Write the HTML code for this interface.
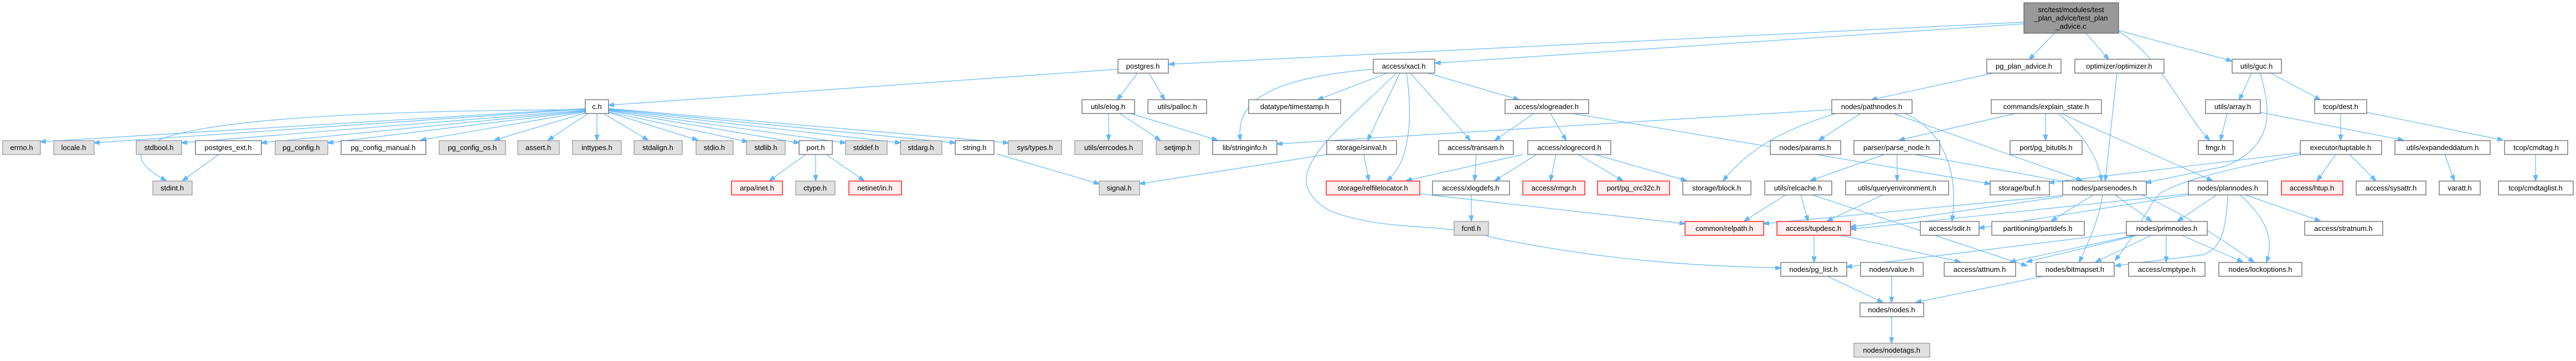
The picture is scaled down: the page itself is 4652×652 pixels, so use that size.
<!DOCTYPE html>
<html><head><meta charset="utf-8"><style>
html,body{margin:0;padding:0;background:#fff;}
svg{display:block;}
text{font-family:"Liberation Sans",sans-serif;font-size:13px;fill:#000;text-anchor:middle;}
.w{fill:#fff;stroke:#666;stroke-width:1.3}
.g{fill:#e0e0e0;stroke:#999;stroke-width:1.3}
.r{fill:#fff0f0;stroke:#f00;stroke-width:1.3}
.t{fill:#999;stroke:#666;stroke-width:1.3}
path,line{stroke:#63b8ff;stroke-width:1.2;fill:none}
</style></head><body>
<svg width="4652" height="652" viewBox="0 0 4652 652" xmlns="http://www.w3.org/2000/svg">
<defs><marker id="a" markerWidth="11" markerHeight="8" refX="10" refY="4" orient="auto" markerUnits="userSpaceOnUse"><path d="M0,0 L11,4 L0,8 z" style="fill:#63b8ff;stroke:#63b8ff"/></marker></defs>
<g marker-end="url(#a)">
<line x1="3655" y1="40" x2="2111" y2="116"/>
<line x1="3655" y1="43" x2="2592" y2="114"/>
<line x1="3710" y1="60" x2="3665" y2="107"/>
<line x1="3767" y1="60" x2="3808" y2="107"/>
<path d="M3826,57 C3900,100 3940,200 3990,253"/>
<line x1="3826" y1="55" x2="4030" y2="110"/>
<line x1="3600" y1="132" x2="3380" y2="180"/>
<line x1="2019" y1="125" x2="1099" y2="190"/>
<line x1="2054" y1="132" x2="2018" y2="180"/>
<line x1="2075" y1="132" x2="2103" y2="180"/>
<line x1="1057" y1="196" x2="73" y2="256"/>
<line x1="1057" y1="197" x2="170" y2="258"/>
<line x1="1057" y1="199" x2="328" y2="258"/>
<line x1="1057" y1="200" x2="472" y2="258"/>
<line x1="1057" y1="201" x2="592" y2="258"/>
<line x1="1057" y1="202" x2="760" y2="253"/>
<line x1="1057" y1="204" x2="893" y2="253"/>
<line x1="1062" y1="205" x2="990" y2="253"/>
<line x1="1078" y1="205" x2="1078" y2="253"/>
<line x1="1090" y1="205" x2="1170" y2="253"/>
<line x1="1099" y1="203" x2="1260" y2="253"/>
<line x1="1099" y1="202" x2="1350" y2="256"/>
<line x1="1099" y1="200" x2="1443" y2="258"/>
<line x1="1099" y1="199" x2="1527" y2="258"/>
<line x1="1099" y1="198" x2="1626" y2="258"/>
<line x1="1099" y1="197" x2="1725" y2="258"/>
<line x1="1099" y1="196" x2="1821" y2="258"/>
<path d="M1057,198 C600,200 100,220 300,326"/>
<line x1="395" y1="279" x2="330" y2="326"/>
<line x1="1455" y1="279" x2="1390" y2="326"/>
<line x1="1473" y1="279" x2="1473" y2="326"/>
<line x1="1492" y1="279" x2="1560" y2="326"/>
<line x1="1800" y1="278" x2="1985" y2="332"/>
<line x1="2396" y1="279" x2="2058" y2="332"/>
<line x1="2463" y1="279" x2="2472" y2="326"/>
<line x1="2002" y1="205" x2="2002" y2="253"/>
<line x1="2022" y1="205" x2="2095" y2="253"/>
<line x1="2042" y1="205" x2="2198" y2="253"/>
<path d="M2480,125 C2300,140 2230,180 2240,253"/>
<line x1="2505" y1="132" x2="2380" y2="180"/>
<line x1="2528" y1="132" x2="2470" y2="253"/>
<path d="M2540,132 C2550,200 2550,290 2505,326"/>
<line x1="2547" y1="132" x2="2655" y2="253"/>
<line x1="2578" y1="132" x2="2743" y2="180"/>
<path d="M2522,132 C2400,250 2300,320 2400,380 C2500,420 2600,400 2700,430 C2900,470 3050,480 3216,484"/>
<line x1="3308" y1="198" x2="2306" y2="260"/>
<path d="M3315,205 C3200,240 3150,280 3112,326"/>
<line x1="3360" y1="205" x2="3285" y2="253"/>
<path d="M3440,205 C3500,230 3540,300 3525,399"/>
<line x1="3420" y1="205" x2="3760" y2="326"/>
<line x1="2770" y1="205" x2="2700" y2="253"/>
<line x1="2800" y1="205" x2="2828" y2="253"/>
<line x1="2840" y1="205" x2="3594" y2="332"/>
<line x1="2666" y1="279" x2="2663" y2="326"/>
<line x1="2775" y1="279" x2="2700" y2="326"/>
<line x1="2810" y1="279" x2="2800" y2="326"/>
<line x1="2850" y1="279" x2="2930" y2="326"/>
<line x1="2880" y1="279" x2="3045" y2="326"/>
<line x1="2750" y1="279" x2="2540" y2="326"/>
<line x1="2564" y1="350" x2="3043" y2="404"/>
<line x1="2657" y1="352" x2="2657" y2="399"/>
<line x1="3640" y1="205" x2="3430" y2="253"/>
<line x1="3694" y1="205" x2="3694" y2="253"/>
<path d="M3717,205 C3770,250 3790,290 3795,326"/>
<line x1="3722" y1="205" x2="3995" y2="326"/>
<line x1="3403" y1="279" x2="3270" y2="326"/>
<line x1="3426" y1="279" x2="3426" y2="326"/>
<line x1="3458" y1="279" x2="3740" y2="330"/>
<line x1="3225" y1="352" x2="3150" y2="399"/>
<line x1="3252" y1="352" x2="3265" y2="399"/>
<line x1="3273" y1="352" x2="3660" y2="480"/>
<line x1="3400" y1="352" x2="3300" y2="399"/>
<line x1="3276" y1="425" x2="3276" y2="473"/>
<line x1="3325" y1="425" x2="3540" y2="473"/>
<line x1="3300" y1="499" x2="3400" y2="546"/>
<line x1="3416" y1="499" x2="3416" y2="546"/>
<line x1="3690" y1="499" x2="3460" y2="546"/>
<line x1="3416" y1="572" x2="3416" y2="619"/>
<line x1="3780" y1="352" x2="3705" y2="399"/>
<line x1="3820" y1="352" x2="3885" y2="399"/>
<path d="M3797,352 C3790,400 3770,440 3755,473"/>
<path d="M3868,352 C3950,390 4010,430 4070,473"/>
<line x1="3725" y1="355" x2="3342" y2="410"/>
<line x1="3725" y1="353" x2="3185" y2="404"/>
<line x1="4003" y1="352" x2="3933" y2="399"/>
<path d="M4023,352 C4020,440 4000,450 3980,460 L3820,480"/>
<path d="M4045,352 C4100,400 4105,440 4093,473"/>
<line x1="4055" y1="352" x2="4190" y2="399"/>
<line x1="3952" y1="350" x2="3342" y2="414"/>
<line x1="3952" y1="352" x2="3574" y2="412"/>
<line x1="3840" y1="420" x2="3335" y2="482"/>
<line x1="3855" y1="425" x2="3630" y2="473"/>
<line x1="3885" y1="425" x2="3785" y2="473"/>
<line x1="3912" y1="425" x2="3912" y2="473"/>
<line x1="3940" y1="425" x2="4050" y2="473"/>
<line x1="3860" y1="425" x2="3660" y2="473"/>
<line x1="4066" y1="132" x2="4044" y2="180"/>
<line x1="4101" y1="132" x2="4190" y2="180"/>
<path d="M4082,132 C4100,200 4110,260 4020,300 L3875,330"/>
<line x1="4022" y1="205" x2="4010" y2="253"/>
<line x1="4082" y1="203" x2="4340" y2="253"/>
<line x1="4227" y1="205" x2="4227" y2="253"/>
<line x1="4274" y1="203" x2="4520" y2="253"/>
<line x1="4218" y1="279" x2="4185" y2="326"/>
<line x1="4243" y1="279" x2="4290" y2="326"/>
<line x1="4154" y1="276" x2="3700" y2="330"/>
<path d="M4154,279 C4000,310 3930,330 3900,350 C3880,370 3860,420 3820,470"/>
<line x1="4415" y1="279" x2="4432" y2="326"/>
<line x1="4579" y1="279" x2="4579" y2="326"/>
<line x1="3823" y1="132" x2="3802" y2="326"/>
</g>
<rect class="t" x="3655" y="5" width="171" height="55"/>
<text x="3740" y="22">src/test/modules/test</text><text x="3740" y="37">_plan_advice/test_plan</text><text x="3740" y="52">_advice.c</text>
<g>
<rect class="w" x="2019" y="107" width="91" height="25"/><text x="2064" y="124">postgres.h</text>
<rect class="w" x="2480" y="107" width="111" height="25"/><text x="2535" y="124">access/xact.h</text>
<rect class="w" x="3588" y="107" width="134" height="25"/><text x="3655" y="124">pg_plan_advice.h</text>
<rect class="w" x="3747" y="107" width="161" height="25"/><text x="3827" y="124">optimizer/optimizer.h</text>
<rect class="w" x="4031" y="107" width="89" height="25"/><text x="4075" y="124">utils/guc.h</text>

<rect class="w" x="1057" y="180" width="42" height="25"/><text x="1078" y="197">c.h</text>
<rect class="w" x="1954" y="180" width="95" height="25"/><text x="2001" y="197">utils/elog.h</text>
<rect class="w" x="2073" y="180" width="106" height="25"/><text x="2126" y="197">utils/palloc.h</text>
<rect class="w" x="2255" y="180" width="166" height="25"/><text x="2338" y="197">datatype/timestamp.h</text>
<rect class="w" x="2718" y="180" width="151" height="25"/><text x="2793" y="197">access/xlogreader.h</text>
<rect class="w" x="3308" y="180" width="145" height="25"/><text x="3380" y="197">nodes/pathnodes.h</text>
<rect class="w" x="3596" y="180" width="199" height="25"/><text x="3695" y="197">commands/explain_state.h</text>
<rect class="w" x="3983" y="180" width="99" height="25"/><text x="4032" y="197">utils/array.h</text>
<rect class="w" x="4180" y="180" width="94" height="25"/><text x="4227" y="197">tcop/dest.h</text>

<rect class="g" x="5" y="254" width="68" height="25"/><text x="39" y="271">errno.h</text>
<rect class="g" x="97" y="254" width="73" height="25"/><text x="133" y="271">locale.h</text>
<rect class="g" x="246" y="254" width="82" height="25"/><text x="287" y="271">stdbool.h</text>
<rect class="w" x="353" y="254" width="119" height="25"/><text x="412" y="271">postgres_ext.h</text>
<rect class="g" x="497" y="254" width="95" height="25"/><text x="544" y="271">pg_config.h</text>
<rect class="w" x="616" y="254" width="153" height="25"/><text x="692" y="271">pg_config_manual.h</text>
<rect class="g" x="793" y="254" width="120" height="25"/><text x="853" y="271">pg_config_os.h</text>
<rect class="g" x="935" y="254" width="75" height="25"/><text x="972" y="271">assert.h</text>
<rect class="g" x="1034" y="254" width="88" height="25"/><text x="1078" y="271">inttypes.h</text>
<rect class="g" x="1145" y="254" width="87" height="25"/><text x="1188" y="271">stdalign.h</text>
<rect class="g" x="1257" y="254" width="67" height="25"/><text x="1290" y="271">stdio.h</text>
<rect class="g" x="1348" y="254" width="70" height="25"/><text x="1383" y="271">stdlib.h</text>
<rect class="w" x="1443" y="254" width="60" height="25"/><text x="1473" y="271">port.h</text>
<rect class="g" x="1527" y="254" width="75" height="25"/><text x="1564" y="271">stddef.h</text>
<rect class="g" x="1626" y="254" width="75" height="25"/><text x="1663" y="271">stdarg.h</text>
<rect class="w" x="1725" y="254" width="70" height="25"/><text x="1760" y="271">string.h</text>
<rect class="g" x="1821" y="254" width="96" height="25"/><text x="1869" y="271">sys/types.h</text>
<rect class="g" x="1941" y="254" width="122" height="25"/><text x="2002" y="271">utils/errcodes.h</text>
<rect class="g" x="2088" y="254" width="78" height="25"/><text x="2127" y="271">setjmp.h</text>
<rect class="w" x="2190" y="254" width="116" height="25"/><text x="2248" y="271">lib/stringinfo.h</text>
<rect class="w" x="2396" y="254" width="126" height="25"/><text x="2459" y="271">storage/sinval.h</text>
<rect class="w" x="2598" y="254" width="135" height="25"/><text x="2665" y="271">access/transam.h</text>
<rect class="w" x="2759" y="254" width="150" height="25"/><text x="2834" y="271">access/xlogrecord.h</text>
<rect class="w" x="3197" y="254" width="127" height="25"/><text x="3260" y="271">nodes/params.h</text>
<rect class="w" x="3348" y="254" width="155" height="25"/><text x="3425" y="271">parser/parse_node.h</text>
<rect class="w" x="3630" y="254" width="130" height="25"/><text x="3695" y="271">port/pg_bitutils.h</text>
<rect class="w" x="3970" y="254" width="63" height="25"/><text x="4001" y="271">fmgr.h</text>
<rect class="w" x="4154" y="254" width="147" height="25"/><text x="4227" y="271">executor/tuptable.h</text>
<rect class="w" x="4325" y="254" width="172" height="25"/><text x="4411" y="271">utils/expandeddatum.h</text>
<rect class="w" x="4523" y="254" width="114" height="25"/><text x="4580" y="271">tcop/cmdtag.h</text>

<rect class="g" x="276" y="327" width="71" height="25"/><text x="311" y="344">stdint.h</text>
<rect class="r" x="1321" y="327" width="92" height="25"/><text x="1367" y="344">arpa/inet.h</text>
<rect class="g" x="1437" y="327" width="71" height="25"/><text x="1472" y="344">ctype.h</text>
<rect class="r" x="1533" y="327" width="95" height="25"/><text x="1580" y="344">netinet/in.h</text>
<rect class="g" x="1985" y="327" width="73" height="25"/><text x="2021" y="344">signal.h</text>
<rect class="r" x="2395" y="327" width="169" height="25"/><text x="2479" y="344">storage/relfilelocator.h</text>
<rect class="w" x="2587" y="327" width="139" height="25"/><text x="2656" y="344">access/xlogdefs.h</text>
<rect class="r" x="2750" y="327" width="112" height="25"/><text x="2806" y="344">access/rmgr.h</text>
<rect class="r" x="2885" y="327" width="130" height="25"/><text x="2950" y="344">port/pg_crc32c.h</text>
<rect class="w" x="3039" y="327" width="123" height="25"/><text x="3100" y="344">storage/block.h</text>
<rect class="w" x="3187" y="327" width="121" height="25"/><text x="3247" y="344">utils/relcache.h</text>
<rect class="w" x="3333" y="327" width="186" height="25"/><text x="3426" y="344">utils/queryenvironment.h</text>
<rect class="w" x="3594" y="327" width="107" height="25"/><text x="3647" y="344">storage/buf.h</text>
<rect class="w" x="3725" y="327" width="151" height="25"/><text x="3800" y="344">nodes/parsenodes.h</text>
<rect class="w" x="3952" y="327" width="143" height="25"/><text x="4023" y="344">nodes/plannodes.h</text>
<rect class="r" x="4120" y="327" width="111" height="25"/><text x="4175" y="344">access/htup.h</text>
<rect class="w" x="4255" y="327" width="126" height="25"/><text x="4318" y="344">access/sysattr.h</text>
<rect class="w" x="4405" y="327" width="74" height="25"/><text x="4442" y="344">varatt.h</text>
<rect class="w" x="4512" y="327" width="135" height="25"/><text x="4579" y="344">tcop/cmdtaglist.h</text>

<rect class="g" x="2626" y="400" width="62" height="25"/><text x="2657" y="417">fcntl.h</text>
<rect class="r" x="3043" y="400" width="142" height="25"/><text x="3114" y="417">common/relpath.h</text>
<rect class="r" x="3209" y="400" width="133" height="25"/><text x="3275" y="417">access/tupdesc.h</text>
<rect class="w" x="3468" y="400" width="106" height="25"/><text x="3521" y="417">access/sdir.h</text>
<rect class="w" x="3597" y="400" width="167" height="25"/><text x="3680" y="417">partitioning/partdefs.h</text>
<rect class="w" x="3840" y="400" width="146" height="25"/><text x="3913" y="417">nodes/primnodes.h</text>
<rect class="w" x="4162" y="400" width="141" height="25"/><text x="4232" y="417">access/stratnum.h</text>

<rect class="w" x="3216" y="474" width="119" height="25"/><text x="3275" y="491">nodes/pg_list.h</text>
<rect class="w" x="3360" y="474" width="113" height="25"/><text x="3416" y="491">nodes/value.h</text>
<rect class="w" x="3511" y="474" width="129" height="25"/><text x="3575" y="491">access/attnum.h</text>
<rect class="w" x="3677" y="474" width="141" height="25"/><text x="3747" y="491">nodes/bitmapset.h</text>
<rect class="w" x="3844" y="474" width="138" height="25"/><text x="3913" y="491">access/cmptype.h</text>
<rect class="w" x="4007" y="474" width="150" height="25"/><text x="4082" y="491">nodes/lockoptions.h</text>

<rect class="w" x="3359" y="547" width="115" height="25"/><text x="3416" y="564">nodes/nodes.h</text>
<rect class="g" x="3348" y="620" width="137" height="25"/><text x="3416" y="637">nodes/nodetags.h</text>
</g>
</svg>
</body></html>
